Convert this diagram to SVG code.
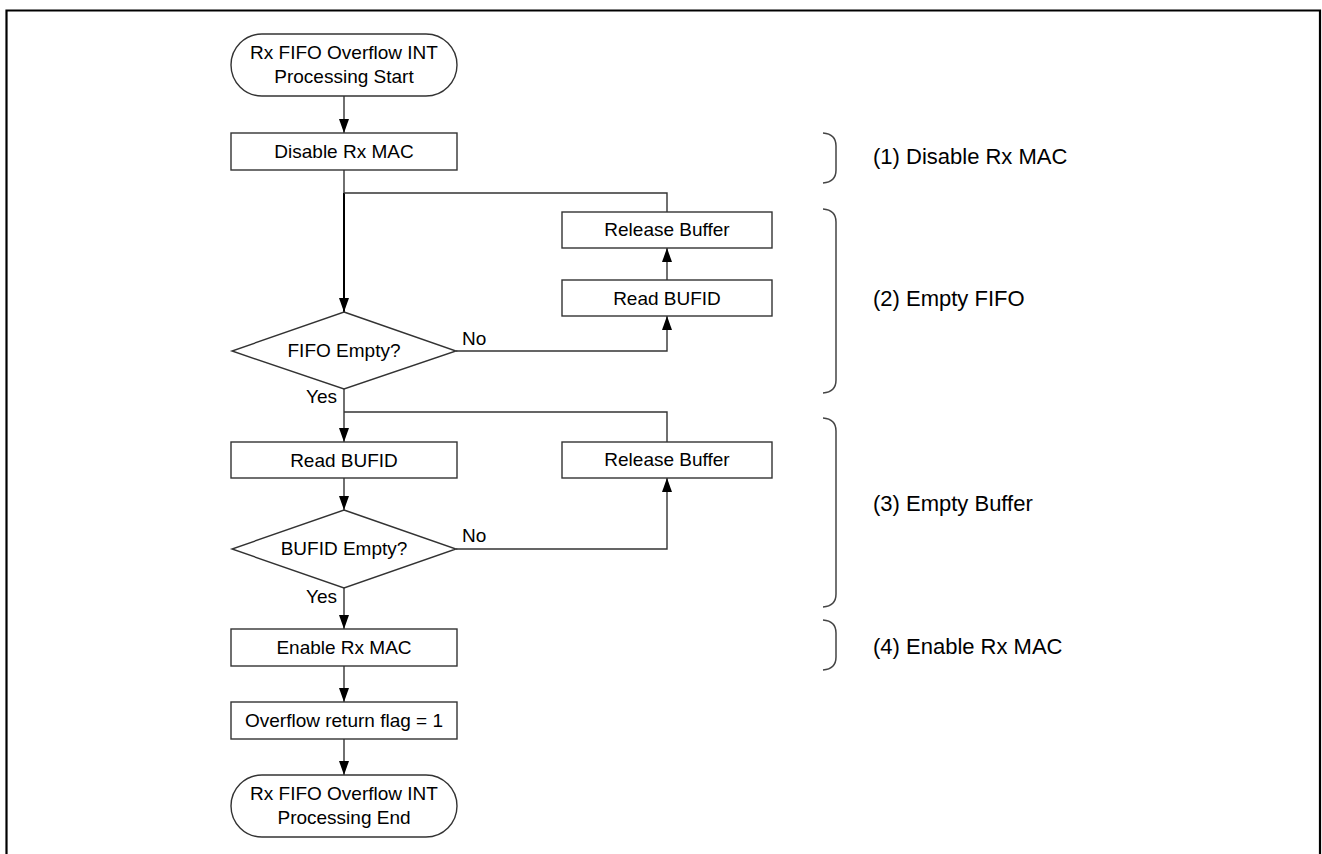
<svg xmlns="http://www.w3.org/2000/svg" width="1322" height="854" viewBox="0 0 1322 854">
<defs>
<style>
.n{fill:#fff;stroke:#333;stroke-width:1.4}
.t{font-family:"Liberation Sans",Arial,sans-serif;font-size:19px;fill:#000;text-anchor:middle}
.l{font-family:"Liberation Sans",Arial,sans-serif;font-size:19px;fill:#000}
.s{font-family:"Liberation Sans",Arial,sans-serif;font-size:22px;fill:#000}
.c{fill:none;stroke:#333;stroke-width:1.4}
.b{fill:none;stroke:#444;stroke-width:1.5}
</style>
<marker id="ah" viewBox="0 0 14 10" refX="14" refY="5" markerWidth="14" markerHeight="10" markerUnits="userSpaceOnUse" orient="auto">
<path d="M0,0 L14,5 L0,10 Z" fill="#000"/>
</marker>
</defs>
<rect width="1322" height="854" fill="#fff"/>
<path d="M6.5,854 V10.5 H1320 V854" fill="none" stroke="#000" stroke-width="2.2"/>

<g id="connectors">
<line class="c" x1="344" y1="96" x2="344" y2="133" marker-end="url(#ah)"/>
<line class="c" x1="344" y1="170" x2="344" y2="193"/>
<line x1="344" y1="193" x2="344" y2="312" stroke="#000" stroke-width="2" marker-end="url(#ah)"/>
<polyline class="c" points="344,193 667,193 667,212"/>
<line class="c" x1="667" y1="280" x2="667" y2="248" marker-end="url(#ah)"/>
<polyline class="c" points="456,351 667,351 667,316" marker-end="url(#ah)"/>
<line class="c" x1="344" y1="389" x2="344" y2="442" marker-end="url(#ah)"/>
<polyline class="c" points="344,412 667,412 667,442"/>
<line class="c" x1="344" y1="478" x2="344" y2="510" marker-end="url(#ah)"/>
<polyline class="c" points="456,549 667,549 667,478" marker-end="url(#ah)"/>
<line class="c" x1="344" y1="588" x2="344" y2="629" marker-end="url(#ah)"/>
<line class="c" x1="344" y1="666" x2="344" y2="702" marker-end="url(#ah)"/>
<line class="c" x1="344" y1="739" x2="344" y2="775" marker-end="url(#ah)"/>
<text class="l" x="462" y="345">No</text>
<text class="l" x="337" y="403" text-anchor="end">Yes</text>
<text class="l" x="462" y="542">No</text>
<text class="l" x="337" y="603" text-anchor="end">Yes</text>
</g>

<g id="start">
<rect class="n" x="231" y="34" width="226" height="62" rx="31" ry="31"/>
<text class="t" x="344" y="59">Rx FIFO Overflow INT</text>
<text class="t" x="344" y="83">Processing Start</text>
</g>
<g id="disable">
<rect class="n" x="231" y="133" width="226" height="37"/>
<text class="t" x="344" y="158">Disable Rx MAC</text>
</g>
<g id="release1">
<rect class="n" x="562" y="212" width="210" height="36"/>
<text class="t" x="667" y="236">Release Buffer</text>
</g>
<g id="read1">
<rect class="n" x="562" y="280" width="210" height="36"/>
<text class="t" x="667" y="305">Read BUFID</text>
</g>
<g id="fifoEmpty">
<polygon class="n" points="344,312 456,351 344,389 232,351"/>
<text class="t" x="344" y="357">FIFO Empty?</text>
</g>
<g id="read2">
<rect class="n" x="231" y="442" width="226" height="36"/>
<text class="t" x="344" y="467">Read BUFID</text>
</g>
<g id="release2">
<rect class="n" x="562" y="442" width="210" height="36"/>
<text class="t" x="667" y="466">Release Buffer</text>
</g>
<g id="bufidEmpty">
<polygon class="n" points="344,510 456,549 344,588 232,549"/>
<text class="t" x="344" y="555">BUFID Empty?</text>
</g>
<g id="enable">
<rect class="n" x="231" y="629" width="226" height="37"/>
<text class="t" x="344" y="654">Enable Rx MAC</text>
</g>
<g id="flag">
<rect class="n" x="231" y="702" width="226" height="37"/>
<text class="t" x="344" y="727">Overflow return flag = 1</text>
</g>
<g id="end">
<rect class="n" x="231" y="775" width="226" height="62" rx="31" ry="31"/>
<text class="t" x="344" y="800">Rx FIFO Overflow INT</text>
<text class="t" x="344" y="824">Processing End</text>
</g>

<g id="brackets">
<path class="b" d="M823,133 Q836,134 836,146 V170 Q836,182 823,183"/>
<path class="b" d="M823,209 Q836,210 836,222 V380 Q836,392 823,393"/>
<path class="b" d="M823,418 Q836,419 836,431 V594 Q836,606 823,607"/>
<path class="b" d="M823,620 Q836,621 836,633 V657 Q836,669 823,670"/>
<text class="s" x="873" y="164">(1) Disable Rx MAC</text>
<text class="s" x="873" y="306">(2) Empty FIFO</text>
<text class="s" x="873" y="511">(3) Empty Buffer</text>
<text class="s" x="873" y="654">(4) Enable Rx MAC</text>
</g>
</svg>
